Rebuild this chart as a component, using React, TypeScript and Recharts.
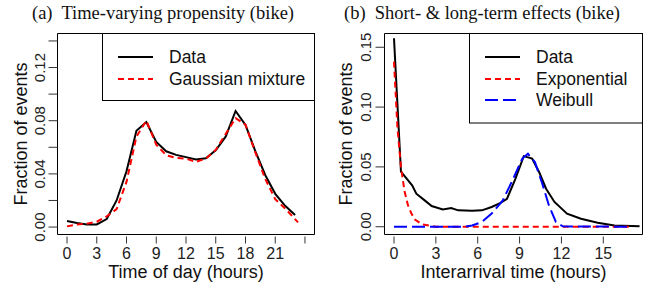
// Two-panel figure: time-of-day propensity and interarrival-time effects (bike)
import { LineChart, Line, XAxis, YAxis, ReferenceArea } from 'recharts';

// ---- panel (a): hourly fraction of events ----
const hours = [0, 1, 2, 3, 4, 5, 6, 7, 8, 9, 10, 11, 12, 13, 14, 15, 16, 17, 18, 19, 20, 21, 22, 23];
const hourData = [0.0045, 0.003, 0.002, 0.002, 0.006, 0.02, 0.042, 0.0725, 0.079, 0.064, 0.057, 0.0543, 0.0526, 0.0508, 0.0518, 0.0577, 0.068, 0.0873, 0.0768, 0.057, 0.039, 0.025, 0.016, 0.009];
const redHours = [0, 1, 2, 3, 4, 5, 6, 7, 8, 9, 10, 11, 12, 13, 14, 15, 16, 17, 18, 19, 20, 21, 22, 23.3];
const gaussMix = [0.0005, 0.002, 0.0025, 0.004, 0.008, 0.0135, 0.034, 0.068, 0.08, 0.062, 0.054, 0.052, 0.0515, 0.049, 0.0515, 0.058, 0.07, 0.082, 0.077, 0.056, 0.036, 0.021, 0.014, 0.0035];
const ticksA_x = [0, 3, 6, 9, 12, 15, 18, 21, 24];
const ticksA_y = [0, 0.02, 0.04, 0.06, 0.08, 0.1, 0.12, 0.14];

// ---- panel (b): interarrival time ----
const gapHours = [0, 0.5, 1.3, 1.6, 2.2, 2.7, 3.5, 4.1, 4.6, 5.6, 6.3, 7.0, 7.6, 8.1, 8.7, 9.3, 9.9, 10.4, 10.9, 11.5, 12.4, 13.4, 14.6, 15.8, 17.6];
const gapData = [0.1575, 0.046, 0.0346, 0.0276, 0.022, 0.0173, 0.0145, 0.0156, 0.0137, 0.0134, 0.0137, 0.0165, 0.0198, 0.0234, 0.04, 0.059, 0.057, 0.0457, 0.0318, 0.0207, 0.0109, 0.0067, 0.0033, 0.0011, 0.0003];
const expHours = [0, 0.25, 0.5, 0.75, 1, 1.25, 1.5, 2, 2.5, 3, 17];
const expFit = [0.138, 0.082, 0.05, 0.03, 0.018, 0.011, 0.006, 0.002, 0.001, 0, 0];
const weiHours = [0, 5, 5.6, 6.3, 7.0, 7.8, 8.5, 9.2, 9.6, 10.1, 10.6, 11.1, 11.6, 12.1, 17];
const weiFit = [0, 0, 0.001, 0.004, 0.011, 0.022, 0.039, 0.057, 0.061, 0.054, 0.037, 0.018, 0.004, 0.0003, 0];
const ticksB_x = [0, 3, 6, 9, 12, 15];
const ticksB_y = [0, 0.05, 0.1, 0.15];

const zip = (xs: number[], ys: number[]) => xs.map((x, i) => ({ x, v: ys[i] }));

const SANS = '"Liberation Sans", Arial, sans-serif';
const SERIF = '"Liberation Serif", "DejaVu Serif", serif';

const XTick = (props: any) => {
  const { x, y, payload, hidden } = props;
  return (
    <g>
      <line x1={x} x2={x} y1={y + 2} y2={y + 9} stroke="#333" />
      {!hidden.includes(payload.value) && (
        <text x={x} y={y + 24.5} textAnchor="middle" fontSize={16} fontFamily={SANS} fill="#222">
          {payload.value}
        </text>
      )}
    </g>
  );
};

const YTick = (props: any) => {
  const { x, y, payload, labelled, gap } = props;
  const tx = x - gap;
  return (
    <g>
      <line x1={x - 9} x2={x} y1={y} y2={y} stroke="#333" />
      {labelled.includes(payload.value) && (
        <text x={tx} y={y} transform={`rotate(-90, ${tx}, ${y})`} textAnchor="middle" fontSize={15} fontFamily={SANS} fill="#222">
          {payload.value.toFixed(2)}
        </text>
      )}
    </g>
  );
};

function Panel({ xDomain, yDomain, xTicks, yTicks, yLabelled, xHidden, yGap, xTitle, left, yAxisW, rightM, children }: any) {
  return (
    <div style={{ position: 'absolute', left, top: 0 }}>
      <LineChart width={326} height={284} margin={{ top: 33.5, right: rightM, bottom: 0, left: 0 }}>
        <XAxis
          dataKey="x"
          type="number"
          domain={xDomain}
          allowDataOverflow
          ticks={xTicks}
          interval={0}
          height={49.5}
          axisLine={false}
          tickLine={false}
          tickSize={0}
          tickMargin={0}
          tick={(p: any) => <XTick {...p} hidden={xHidden} />}
        />
        <YAxis
          type="number"
          domain={yDomain}
          allowDataOverflow
          ticks={yTicks}
          interval={0}
          width={yAxisW}
          axisLine={false}
          tickLine={false}
          tickSize={0}
          tickMargin={0}
          tick={(p: any) => <YTick {...p} labelled={yLabelled} gap={yGap} />}
        />
        <ReferenceArea x1={xDomain[0]} x2={xDomain[1]} y1={yDomain[0]} y2={yDomain[1]} fill="none" stroke="#000" strokeWidth={1} fillOpacity={0} />
        {children}
      </LineChart>
      <svg width={326} height={284} style={{ position: 'absolute', left: 0, top: 0, pointerEvents: 'none' }}>
        <text x={yAxisW + (326 - rightM - yAxisW) / 2} y={278} textAnchor="middle" fontSize={18} fontFamily={SANS} fill="#111">
          {xTitle}
        </text>
        <text x={27} y={134} transform="rotate(-90, 27, 134)" textAnchor="middle" fontSize={18} fontFamily={SANS} fill="#111">
          Fraction of events
        </text>
      </svg>
    </div>
  );
}

export default function App() {
  return (
    <div style={{ position: 'absolute', left: 0, top: 0, width: 651, height: 284, background: '#fff', overflow: 'hidden' }}>
      <Panel
        left={0}
        xDomain={[-0.96, 24.96]}
        yDomain={[-0.0056, 0.1456]}
        xTicks={ticksA_x}
        yTicks={ticksA_y}
        yLabelled={[0, 0.04, 0.08, 0.12]}
        xHidden={[24]}
        yGap={12.5}
        xTitle="Time of day (hours)"
        yAxisW={57.5}
        rightM={11.5}
      >
        <Line data={zip(hours, hourData)} dataKey="v" type="linear" stroke="#000" strokeWidth={2} dot={false} isAnimationActive={false} />
        <Line data={zip(redHours, gaussMix)} dataKey="v" type="linear" stroke="#ff0000" strokeWidth={2} strokeDasharray="6 4" dot={false} isAnimationActive={false} />
      </Panel>
      <Panel
        left={325}
        xDomain={[-0.68, 17.81]}
        yDomain={[-0.0065, 0.1615]}
        xTicks={ticksB_x}
        yTicks={ticksB_y}
        yLabelled={ticksB_y}
        xHidden={[]}
        yGap={13.5}
        xTitle="Interarrival time (hours)"
        yAxisW={59.5}
        rightM={8.5}
      >
        <Line data={zip(gapHours, gapData)} dataKey="v" type="linear" stroke="#000" strokeWidth={2} dot={false} isAnimationActive={false} />
        <Line data={zip(expHours, expFit)} dataKey="v" type="linear" stroke="#ff0000" strokeWidth={2} strokeDasharray="6 4" dot={false} isAnimationActive={false} />
        <Line data={zip(weiHours, weiFit)} dataKey="v" type="linear" stroke="#0000ff" strokeWidth={2} strokeDasharray="13 5" dot={false} isAnimationActive={false} />
      </Panel>
      <svg width={651} height={284} style={{ position: 'absolute', left: 0, top: 0, pointerEvents: 'none' }}>
        <text x={163} y={18.5} textAnchor="middle" fontSize={18.5} fontFamily={SERIF} fill="#111">
          {'(a)\u00a0 Time-varying propensity (bike)'}
        </text>
        <text x={482} y={18.5} textAnchor="middle" fontSize={18.5} fontFamily={SERIF} fill="#111">
          {'(b)\u00a0 Short- & long-term effects (bike)'}
        </text>
        {/* legend (a) */}
        <rect x={102.5} y={33.5} width={212} height={67} fill="#fff" stroke="#000" />
        <line x1={118} x2={153} y1={57} y2={57} stroke="#000" strokeWidth={2} />
        <text x={169} y={63} fontSize={17.5} fontFamily={SANS} fill="#111">Data</text>
        <line x1={118} x2={153} y1={79} y2={79} stroke="#ff0000" strokeWidth={2} strokeDasharray="6 4" />
        <text x={169} y={85} fontSize={17.5} fontFamily={SANS} fill="#111">Gaussian mixture</text>
        {/* legend (b) */}
        <rect x={469.5} y={33.5} width={173} height={89.5} fill="#fff" stroke="#000" />
        <line x1={485} x2={520} y1={57} y2={57} stroke="#000" strokeWidth={2} />
        <text x={536} y={63} fontSize={17.5} fontFamily={SANS} fill="#111">Data</text>
        <line x1={485} x2={520} y1={79} y2={79} stroke="#ff0000" strokeWidth={2} strokeDasharray="6 4" />
        <text x={536} y={85} fontSize={17.5} fontFamily={SANS} fill="#111">Exponential</text>
        <line x1={485} x2={520} y1={100} y2={100} stroke="#0000ff" strokeWidth={2} strokeDasharray="13 5" />
        <text x={536} y={106} fontSize={17.5} fontFamily={SANS} fill="#111">Weibull</text>
      </svg>
    </div>
  );
}
